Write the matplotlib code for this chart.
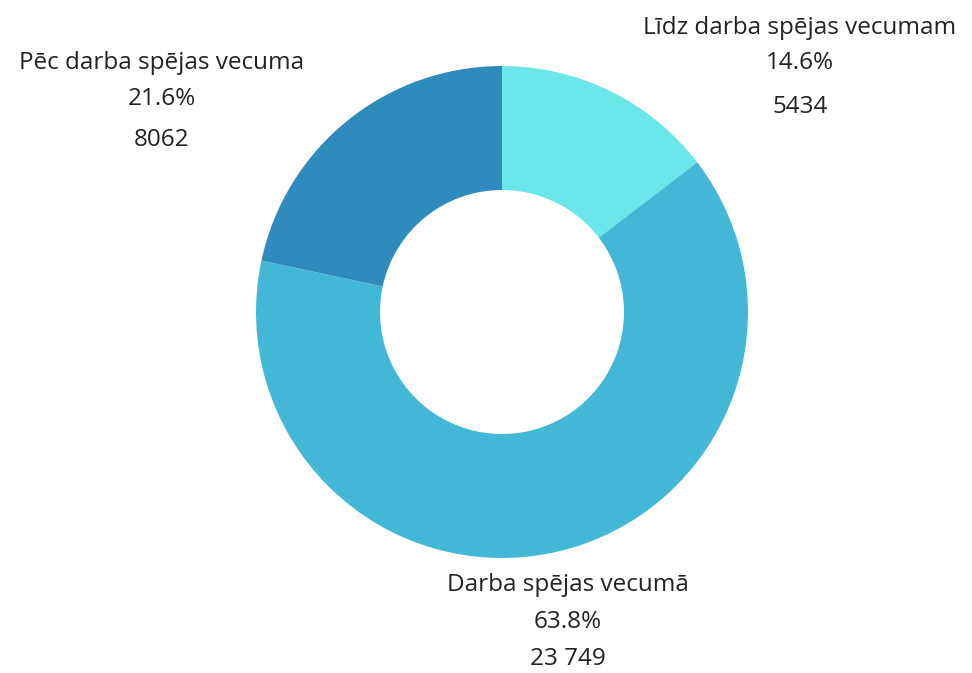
import matplotlib.pyplot as plt

labels = ['Līdz darba spējas vecumam', 'Darba spējas vecumā', 'Pēc darba spējas vecuma']
pcts = ['14.6%', '63.8%', '21.6%']
counts = [5434, 23749, 8062]
count_labels = ['5434', '23 749', '8062']
colors = ['#6ae5e8', '#42b8d6', '#2e8bbb']

W, H = 972, 673
fig = plt.figure(figsize=(W / 100, H / 100), dpi=100)
ax = fig.add_axes([0, 0, 1, 1])

cx, cy, r = 502, H - 312, 246
ax.pie(counts, colors=colors, startangle=90, counterclock=False,
       center=(cx, cy), radius=r, frame=True,
       wedgeprops=dict(width=r - 122, linewidth=0))
ax.set_xlim(0, W)
ax.set_ylim(0, H)
ax.axis('off')

# label positions (pixel coords from top): name, pct, count
pos = [(800, 28, 63, 107), (568, 585, 622, 659), (162, 63, 99, 140)]
fnt = dict(family='Open Sans', fontsize=17.5, color='#222222', ha='center', va='center')
for i, (x, y1, y2, y3) in enumerate(pos):
    ax.text(x, H - y1, labels[i], **fnt)
    ax.text(x, H - y2, pcts[i], **fnt)
    ax.text(x, H - y3, count_labels[i], **fnt)

fig.savefig('out.png', dpi=100)
